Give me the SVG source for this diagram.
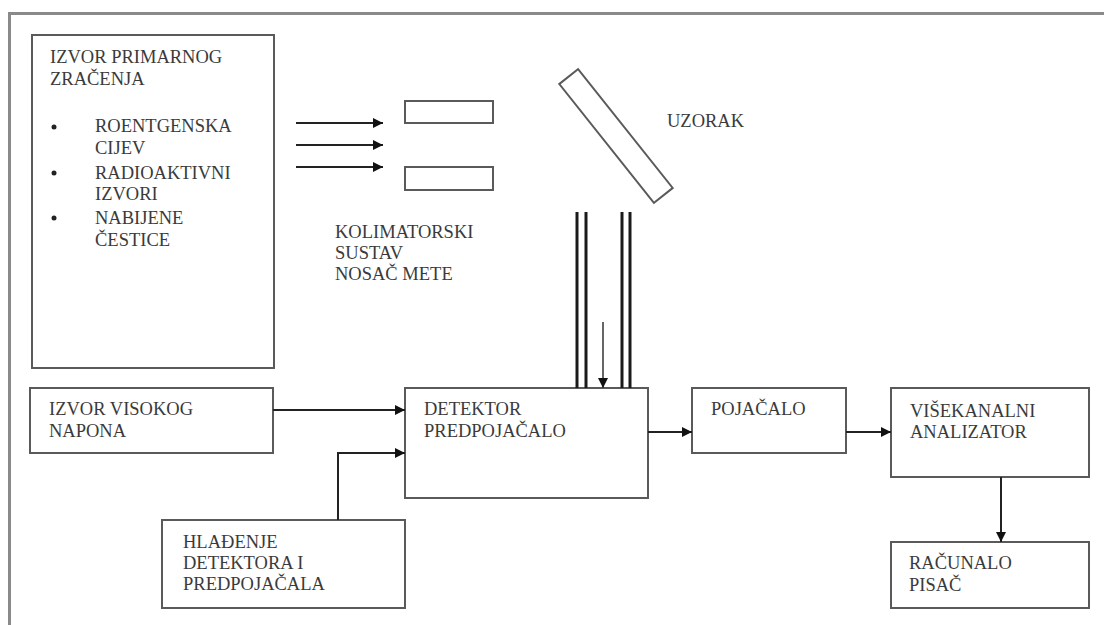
<svg xmlns="http://www.w3.org/2000/svg" width="1104" height="625" viewBox="0 0 1104 625">
<style>
.box{fill:#fff;stroke:#5a5a5a;stroke-width:2}
.t{font-size:18.5px;fill:#3a3a3a}
.c{fill:none;stroke:#222;stroke-width:2}
.dbl{stroke:#1a1a1a;stroke-width:3}
</style>
<defs>
<marker id="ah" viewBox="0 0 10 10" refX="10" refY="5" markerWidth="10" markerHeight="10" markerUnits="userSpaceOnUse" orient="auto">
<path d="M0,0 L10,5 L0,10 Z" fill="#111"/>
</marker>
</defs>
<rect width="1104" height="625" fill="#fff"/>
<g id="frame">
<path d="M1104,13.5 H9.5 V625" fill="none" stroke="#8a8a8a" stroke-width="3"/>
</g>
<g font-family="Liberation Serif, DejaVu Serif, serif">
<g id="primary-source">
<rect class="box" x="32" y="35" width="242" height="333"/>
<text class="t" x="50" y="63">IZVOR PRIMARNOG</text>
<text class="t" x="50" y="85">ZRAČENJA</text>
<circle cx="54" cy="127" r="2.5" fill="#222"/>
<circle cx="54" cy="173" r="2.5" fill="#222"/>
<circle cx="54" cy="218" r="2.5" fill="#222"/>
<text class="t" x="95" y="132">ROENTGENSKA</text>
<text class="t" x="95" y="154">CIJEV</text>
<text class="t" x="95" y="179">RADIOAKTIVNI</text>
<text class="t" x="95" y="200">IZVORI</text>
<text class="t" x="95" y="224">NABIJENE</text>
<text class="t" x="95" y="246">ČESTICE</text>
</g>

<g id="collimator">
<rect class="box" x="405" y="101" width="88" height="22"/>
<rect class="box" x="405" y="167" width="88" height="23"/>
<text class="t" x="335" y="238">KOLIMATORSKI</text>
<text class="t" x="335" y="259">SUSTAV</text>
<text class="t" x="335" y="280">NOSAČ METE</text>
</g>

<g id="sample">
<rect class="box" x="540" y="124" width="152" height="24" transform="rotate(51.5 616 136)"/>
<text class="t" x="667" y="127">UZORAK</text>
</g>

<g id="hv-source">
<rect class="box" x="30" y="388" width="243" height="65"/>
<text class="t" x="49" y="415">IZVOR VISOKOG</text>
<text class="t" x="49" y="437">NAPONA</text>
</g>

<g id="detector">
<rect class="box" x="405" y="388" width="243" height="110"/>
<text class="t" x="424" y="415">DETEKTOR</text>
<text class="t" x="424" y="437">PREDPOJAČALO</text>
</g>

<g id="cooling">
<rect class="box" x="162" y="520" width="243" height="88"/>
<text class="t" x="183" y="548">HLAĐENJE</text>
<text class="t" x="183" y="569">DETEKTORA I</text>
<text class="t" x="183" y="590">PREDPOJAČALA</text>
</g>

<g id="amplifier">
<rect class="box" x="692" y="388" width="154" height="65"/>
<text class="t" x="711" y="415">POJAČALO</text>
</g>

<g id="mca">
<rect class="box" x="891" y="388" width="198" height="89"/>
<text class="t" x="910" y="417">VIŠEKANALNI</text>
<text class="t" x="910" y="438">ANALIZATOR</text>
</g>

<g id="computer">
<rect class="box" x="891" y="542" width="198" height="66"/>
<text class="t" x="909" y="569">RAČUNALO</text>
<text class="t" x="909" y="591">PISAČ</text>
</g>
</g>
<g id="connectors">
<line class="c" x1="296" y1="123" x2="383" y2="123" marker-end="url(#ah)"/>
<line class="c" x1="296" y1="145" x2="383" y2="145" marker-end="url(#ah)"/>
<line class="c" x1="296" y1="167" x2="383" y2="167" marker-end="url(#ah)"/>
<line class="dbl" x1="577" y1="212" x2="577" y2="388"/>
<line class="dbl" x1="586" y1="212" x2="586" y2="388"/>
<line class="dbl" x1="622" y1="212" x2="622" y2="388"/>
<line class="dbl" x1="630" y1="212" x2="630" y2="388"/>
<line x1="603" y1="322" x2="603" y2="388" stroke="#333" stroke-width="1.5" marker-end="url(#ah)"/>
<line class="c" x1="273" y1="410" x2="405" y2="410" marker-end="url(#ah)"/>
<path class="c" d="M338,520 V453 H405" marker-end="url(#ah)"/>
<line class="c" x1="648" y1="432" x2="692" y2="432" marker-end="url(#ah)"/>
<line class="c" x1="846" y1="432" x2="891" y2="432" marker-end="url(#ah)"/>
<line class="c" x1="1001" y1="477" x2="1001" y2="542" marker-end="url(#ah)"/>
</g>
</svg>
